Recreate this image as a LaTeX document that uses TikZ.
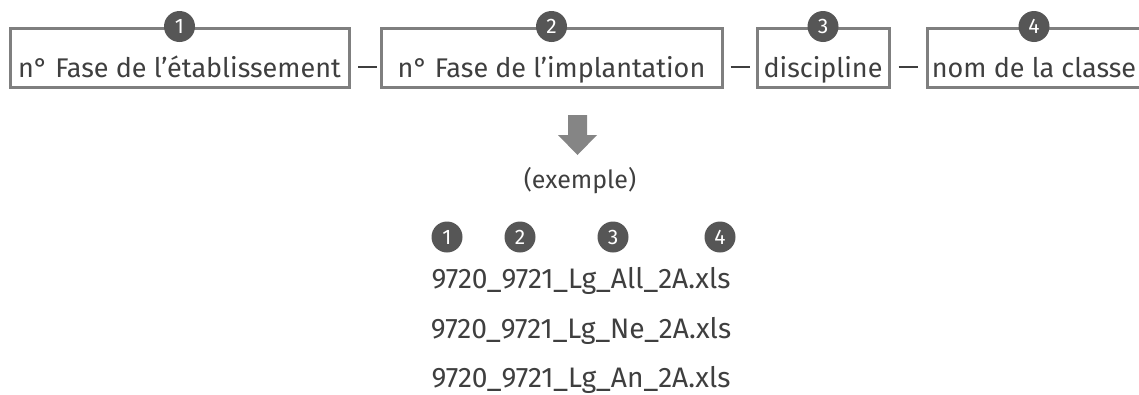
\documentclass[tikz,border=0pt]{standalone}
\usepackage{fontspec}
\setmainfont{Fira Sans}
\usepackage{xcolor}
\usepackage{tikz}
\definecolor{boxgray}{HTML}{7F7F7F}
\definecolor{txtgray}{HTML}{3F3F3F}
\definecolor{dotgray}{HTML}{565656}
\definecolor{arrgray}{HTML}{858585}

\begin{document}
\begin{tikzpicture}[x=1pt,y=-1pt,
    fieldbox/.style={draw=boxgray,line width=3pt,inner sep=0pt,text height=49pt,text depth=10pt,text=txtgray,font=\fontsize{27}{32}\selectfont},
    numdot/.style={circle,fill=dotgray,text=white,inner sep=0pt,minimum size=31pt,font=\fontsize{21}{24}\selectfont},
    filetext/.style={text=txtgray,inner sep=0pt,font=\fontsize{28.2}{34}\selectfont}]
    \useasboundingbox (0,0) rectangle (1139,394);
    \clip (0,0) rectangle (1139,394);
    % Name fields
    \node[fieldbox,minimum width=339pt] (b1) at (179.5,57.5) {n° Fase de l’établissement};
    \node[fieldbox,minimum width=341pt] (b2) at (551.5,57.5) {n° Fase de l’implantation};
    \node[fieldbox,minimum width=132pt] (b3) at (823,57.5) {discipline};
    \node[fieldbox,minimum width=214pt] (b4) at (1034,57.5) {nom de la classe};
    \node[numdot] (n1) at (b1.north) {1};
    \node[numdot] (n2) at (b2.north) {2};
    \node[numdot] (n3) at (b3.north) {3};
    \node[numdot] (n4) at (b4.north) {4};
    % Separators
    \node[text=txtgray,inner sep=0pt] (d12) at (367.5,67) {\rule{19pt}{2.6pt}};
    \node[text=txtgray,inner sep=0pt] (d23) at (740,67) {\rule{19pt}{2.6pt}};
    \node[text=txtgray,inner sep=0pt] (d34) at (908,67) {\rule{19pt}{2.6pt}};
    % Down arrow
    \fill[arrgray] (568,115) -- (587,115) -- (587,135) -- (597,135) -- (577.5,155)
        -- (558,135) -- (568,135) -- cycle;
    \node[filetext,anchor=base,font=\fontsize{25}{30}\selectfont] (ex) at (580,188) {(exemple)};
    % Example file names
    \node[numdot] (e1) at (447,237) {1};
    \node[numdot] (e2) at (520,237) {2};
    \node[numdot] (e3) at (613,237) {3};
    \node[numdot] (e4) at (720,237) {4};
    \node[filetext,anchor=base] (f1) at (581,288) {9720\_9721\_Lg\_All\_2A.xls};
    \node[filetext,anchor=base] (f2) at (581,338) {9720\_9721\_Lg\_Ne\_2A.xls};
    \node[filetext,anchor=base] (f3) at (581,387) {9720\_9721\_Lg\_An\_2A.xls};
\end{tikzpicture}
\end{document}
